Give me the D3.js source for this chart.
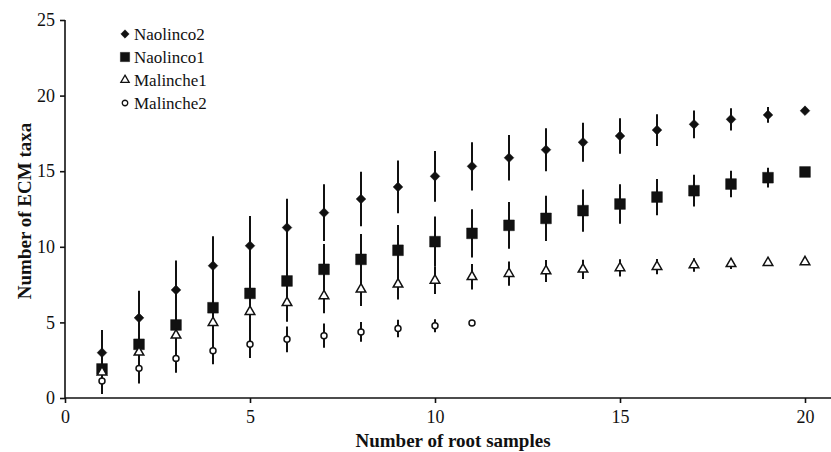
<!DOCTYPE html>
<html>
<head>
<meta charset="utf-8">
<title>ECM taxa accumulation</title>
<script src="https://d3js.org/d3.v7.min.js"></script>
<style>
  body { margin: 0; background: #fff; }
  svg { display: block; font-family: "Liberation Serif", "Times New Roman", serif; }
  .axis path, .axis line { stroke: #111; stroke-width: 1.6; }
  .axis text { font-size: 18px; fill: #111; font-family: "Liberation Serif", serif; }
  .title { font-size: 19px; font-weight: bold; fill: #111; }
  .legend text { font-size: 17px; fill: #111; }
</style>
</head>
<body>
<svg width="831" height="452"></svg>
<script>
// samples on the x axis
var samples = d3.range(1, 21);

// means
var naolinco2 = [3.0, 5.3, 7.15, 8.75, 10.07, 11.27, 12.26, 13.16, 13.96, 14.66, 15.32, 15.89, 16.42, 16.91, 17.33, 17.72, 18.1, 18.43, 18.72, 19.0];
var naolinco1 = [1.92, 3.55, 4.83, 5.97, 6.92, 7.74, 8.51, 9.17, 9.77, 10.34, 10.89, 11.42, 11.88, 12.39, 12.83, 13.29, 13.71, 14.15, 14.57, 14.95];
var malinche1 = [1.7, 3.02, 4.15, 4.98, 5.71, 6.3, 6.75, 7.19, 7.52, 7.78, 8.02, 8.22, 8.4, 8.51, 8.6, 8.69, 8.8, 8.88, 8.95, 9.0];
var malinche2 = [1.12, 1.96, 2.62, 3.13, 3.55, 3.88, 4.12, 4.37, 4.59, 4.78, 4.96];

// standard deviations (error bar half lengths)
var naolinco2Sd = [1.5, 1.8, 1.94, 1.94, 1.97, 1.9, 1.87, 1.8, 1.74, 1.68, 1.59, 1.5, 1.42, 1.29, 1.18, 1.05, 0.92, 0.74, 0.52, 0];
var naolinco1Sd = [1.0, 1.3, 1.5, 1.6, 1.65, 1.68, 1.68, 1.68, 1.67, 1.66, 1.6, 1.55, 1.5, 1.4, 1.3, 1.2, 1.05, 0.88, 0.65, 0];
var malinche1Sd = [0.9, 1.1, 1.25, 1.3, 1.3, 1.25, 1.15, 1.1, 1.0, 0.9, 0.85, 0.8, 0.72, 0.64, 0.57, 0.5, 0.45, 0.34, 0.2, 0];
var malinche2Sd = [0.86, 1.0, 0.95, 0.9, 0.9, 0.85, 0.8, 0.65, 0.58, 0.43, 0];

var xTicks = [0, 5, 10, 15, 20];
var yTicks = [0, 5, 10, 15, 20, 25];

var series = [
  {name: "Naolinco2", mean: naolinco2, sd: naolinco2Sd, shape: "diamond"},
  {name: "Naolinco1", mean: naolinco1, sd: naolinco1Sd, shape: "square"},
  {name: "Malinche1", mean: malinche1, sd: malinche1Sd, shape: "triangle"},
  {name: "Malinche2", mean: malinche2, sd: malinche2Sd, shape: "circle"}
];

var svg = d3.select("svg");

var x = d3.scaleLinear().domain([0, 20]).range([65, 805]);
var y = d3.scaleLinear().domain([0, 25]).range([398, 20]);

// axes
svg.append("g")
  .attr("class", "axis")
  .attr("transform", "translate(0,398)")
  .call(d3.axisBottom(x).tickValues(xTicks).tickSize(5).tickPadding(7))
  .call(function(g) { g.select(".domain").attr("d", "M65,0H831"); });

svg.append("g")
  .attr("class", "axis")
  .attr("transform", "translate(65,0)")
  .call(d3.axisLeft(y).tickValues(yTicks).tickSize(5).tickPadding(5))
  .call(function(g) { g.select(".domain").attr("d", "M0,20V398"); });

svg.append("text")
  .attr("class", "title")
  .attr("text-anchor", "middle")
  .attr("x", 453)
  .attr("y", 447)
  .text("Number of root samples");

svg.append("text")
  .attr("class", "title")
  .attr("text-anchor", "middle")
  .attr("transform", "translate(31,211) rotate(-90)")
  .text("Number of ECM taxa");

function symbolFor(shape) {
  if (shape == "diamond") return d3.symbol().type(d3.symbolDiamond2).size(60)();
  if (shape == "square") return d3.symbol().type(d3.symbolSquare).size(115)();
  if (shape == "triangle") return d3.symbol().type(d3.symbolTriangle).size(40)();
  return d3.symbol().type(d3.symbolCircle).size(28)();
}

// error bars first, markers on top
series.forEach(function(s) {
  svg.append("g")
    .selectAll("line")
    .data(s.mean.map(function(m, i) { return {x: samples[i], m: m, sd: s.sd[i]}; }).filter(function(d) { return d.sd > 0; }))
    .enter()
    .append("line")
      .attr("x1", function(d) { return x(d.x); })
      .attr("x2", function(d) { return x(d.x); })
      .attr("y1", function(d) { return y(d.m - d.sd); })
      .attr("y2", function(d) { return y(d.m + d.sd); })
      .attr("stroke", "#111")
      .attr("stroke-width", 2);
});

series.forEach(function(s) {
  var open = (s.shape == "triangle" || s.shape == "circle");
  svg.append("g")
    .selectAll("path")
    .data(s.mean.map(function(m, i) { return {x: samples[i], m: m}; }))
    .enter()
    .append("path")
      .attr("d", symbolFor(s.shape))
      .attr("transform", function(d) { return "translate(" + x(d.x) + "," + y(d.m) + ")"; })
      .attr("fill", open ? "#fff" : "#111")
      .attr("stroke", "#111")
      .attr("stroke-width", open ? 1.5 : 0.5);
});

// legend
var legend = svg.append("g").attr("class", "legend");
series.forEach(function(s, i) {
  var ly = 34 + i * 23;
  var open = (s.shape == "triangle" || s.shape == "circle");
  var sym = s.shape == "square" ? d3.symbol().type(d3.symbolSquare).size(85)()
          : s.shape == "diamond" ? d3.symbol().type(d3.symbolDiamond2).size(45)()
          : s.shape == "triangle" ? d3.symbol().type(d3.symbolTriangle).size(30)()
          : d3.symbol().type(d3.symbolCircle).size(24)();
  legend.append("path")
    .attr("d", sym)
    .attr("transform", "translate(125," + ly + ")")
    .attr("fill", open ? "#fff" : "#111")
    .attr("stroke", "#111")
    .attr("stroke-width", open ? 1.3 : 0.5);
  legend.append("text")
    .attr("x", 134)
    .attr("y", ly + 6)
    .text(s.name);
});
</script>
</body>
</html>
